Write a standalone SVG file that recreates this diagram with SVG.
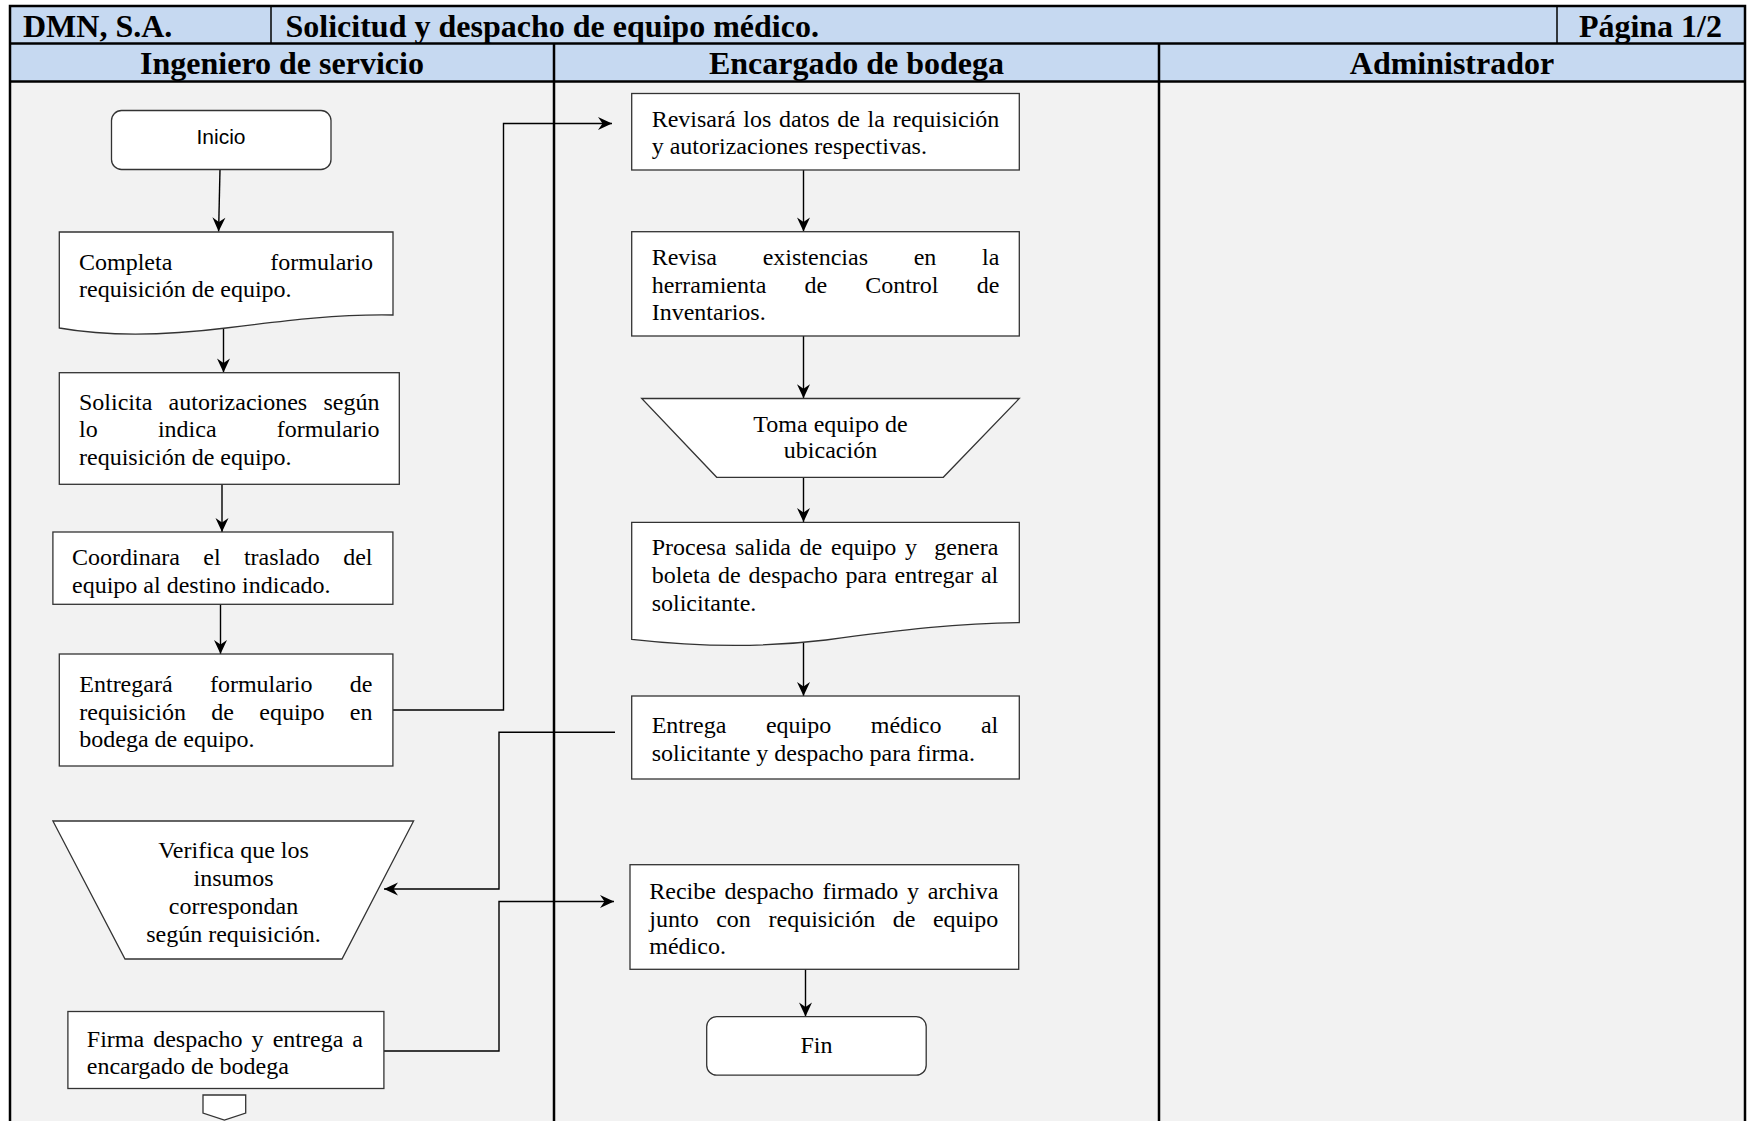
<svg xmlns="http://www.w3.org/2000/svg" width="1748" height="1121" viewBox="0 0 1748 1121">
  <style>
    .hdr { fill: #c6d9f1; }
    .body { fill: #f2f2f2; }
    .rule { stroke: #000; stroke-width: 2.5; fill: none; }
    .thin { stroke: #000; stroke-width: 1.5; fill: none; }
    .hd { font-family: "Liberation Serif", "Times New Roman", serif; font-weight: bold; font-size: 32px; fill: #000; }
    .shape { fill: #fff; stroke: #333; stroke-width: 1.3; }
    .t { font-family: "Liberation Serif", "Times New Roman", serif; font-size: 24px; fill: #000; }
    .ts { font-family: "Liberation Sans", Arial, sans-serif; font-size: 21px; fill: #000; }
    .c { text-anchor: middle; }
    .e { text-anchor: end; }
    .conn { stroke: #000; stroke-width: 1.4; fill: none; }
  </style>
  <defs>
    <marker id="arrow" viewBox="-15 -8 16 16" markerWidth="16" markerHeight="16" refX="0" refY="0" markerUnits="userSpaceOnUse" orient="auto">
      <path d="M0,0 L-14,-6.5 L-9.5,0 L-14,6.5 Z" fill="#000"/>
    </marker>
  </defs>

  <!-- page background -->
  <rect x="0" y="0" width="1748" height="1121" fill="#fff"/>

  <!-- title block and lane headers -->
  <g id="header">
    <rect class="hdr" x="10" y="6" width="1735" height="75.5"/>
    <rect class="body" x="10" y="81.5" width="1735" height="1045"/>
    <line class="rule" x1="10" y1="43.5" x2="1745" y2="43.5"/>
    <line class="rule" x1="10" y1="81.5" x2="1745" y2="81.5"/>
    <line class="thin" x1="271" y1="6" x2="271" y2="43.5"/>
    <line class="thin" x1="1557" y1="6" x2="1557" y2="43.5"/>
    <text class="hd" x="23" y="36.5">DMN, S.A.</text>
    <text class="hd" x="285.5" y="36.5">Solicitud y despacho de equipo médico.</text>
    <text class="hd e" x="1722" y="36.5">Página 1/2</text>
  </g>

  <!-- swimlanes -->
  <g id="lanes">
    <text class="hd c" x="282" y="73.5">Ingeniero de servicio</text>
    <text class="hd c" x="856.5" y="73.5">Encargado de bodega</text>
    <text class="hd c" x="1452" y="73.5">Administrador</text>
    <line class="rule" x1="554" y1="43.5" x2="554" y2="1125"/>
    <line class="rule" x1="1159" y1="43.5" x2="1159" y2="1125"/>
    <polyline class="rule" points="10,1125 10,6 1745,6 1745,1125"/>
  </g>

  <!-- connectors -->
  <g id="connectors">
    <path class="conn" d="M220,169.5 L218.6,231.5" marker-end="url(#arrow)"/>
    <path class="conn" d="M223.5,329 V372.5" marker-end="url(#arrow)"/>
    <path class="conn" d="M222,484.3 V532" marker-end="url(#arrow)"/>
    <path class="conn" d="M220.5,604.3 V654" marker-end="url(#arrow)"/>
    <path class="conn" d="M393,710 H503.5 V123.5 H612" marker-end="url(#arrow)"/>
    <path class="conn" d="M803.5,170 V231.5" marker-end="url(#arrow)"/>
    <path class="conn" d="M803.5,336 V398.3" marker-end="url(#arrow)"/>
    <path class="conn" d="M803.5,477.3 V522" marker-end="url(#arrow)"/>
    <path class="conn" d="M803.5,643 V696" marker-end="url(#arrow)"/>
    <path class="conn" d="M615,732.3 H499 V889 H384" marker-end="url(#arrow)"/>
    <path class="conn" d="M384,1051 H499 V901.5 H614" marker-end="url(#arrow)"/>
    <path class="conn" d="M805.5,969.3 V1016.5" marker-end="url(#arrow)"/>
  </g>

  <!-- Ingeniero de servicio -->
  <g id="inicio">
    <rect class="shape" x="111.5" y="110.5" width="219.5" height="59" rx="10"/>
    <text class="ts c" x="221" y="144">Inicio</text>
  </g>

  <g id="completa">
    <path class="shape" d="M59.3,232 H393 V315 C340,314 290,320 226,328 C170,335 110,337 59.3,328 Z"/>
    <text class="t" y="269.5"><tspan x="79">Completa</tspan><tspan class="e" x="373">formulario</tspan></text>
    <text class="t" x="79" y="297">requisición de equipo.</text>
  </g>

  <g id="solicita">
    <rect class="shape" x="59.3" y="372.7" width="340" height="111.6"/>
    <text class="t" y="409.5"><tspan x="79">Solicita</tspan><tspan x="168.6">autorizaciones</tspan><tspan class="e" x="379.5">según</tspan></text>
    <text class="t" y="437"><tspan x="79">lo</tspan><tspan x="157.9">indica</tspan><tspan class="e" x="379.5">formulario</tspan></text>
    <text class="t" x="79" y="464.5">requisición de equipo.</text>
  </g>

  <g id="coordinara">
    <rect class="shape" x="52.9" y="532" width="340" height="72.3"/>
    <text class="t" y="565"><tspan x="72">Coordinara</tspan><tspan x="203.3">el</tspan><tspan x="243.9">traslado</tspan><tspan class="e" x="372.5">del</tspan></text>
    <text class="t" x="72" y="592.5">equipo al destino indicado.</text>
  </g>

  <g id="entregara">
    <rect class="shape" x="59.3" y="654" width="333.6" height="112"/>
    <text class="t" y="692"><tspan x="79.3">Entregará</tspan><tspan x="209.9">formulario</tspan><tspan class="e" x="372.5">de</tspan></text>
    <text class="t" y="719.5"><tspan x="79.3">requisición</tspan><tspan x="211.3">de</tspan><tspan x="259.3">equipo</tspan><tspan class="e" x="372.5">en</tspan></text>
    <text class="t" x="79.3" y="747">bodega de equipo.</text>
  </g>

  <g id="verifica">
    <polygon class="shape" points="52.9,821 413.6,821 342,959 125,959"/>
    <text class="t c" x="233.5" y="857.5">Verifica que los</text>
    <text class="t c" x="233.5" y="885.5">insumos</text>
    <text class="t c" x="233.5" y="913.5">correspondan</text>
    <text class="t c" x="233.5" y="941.5">según requisición.</text>
  </g>

  <g id="firma">
    <rect class="shape" x="67.9" y="1011.5" width="316" height="77"/>
    <text class="t" y="1046.5"><tspan x="86.8">Firma</tspan><tspan x="153.2">despacho</tspan><tspan x="251.6">y</tspan><tspan x="272.7">entrega</tspan><tspan class="e" x="363">a</tspan></text>
    <text class="t" x="86.8" y="1074">encargado de bodega</text>
  </g>

  <g id="conector-pagina">
    <path class="shape" d="M203,1095 H245.7 V1113 L224.4,1120 L203,1113 Z"/>
  </g>

  <!-- Encargado de bodega -->
  <g id="revisara">
    <rect class="shape" x="631.7" y="93.5" width="387.6" height="76.5"/>
    <text class="t" y="126.5"><tspan x="651.7">Revisará</tspan><tspan x="743.3">los</tspan><tspan x="778.9">datos</tspan><tspan x="837.3">de</tspan><tspan x="867.6">la</tspan><tspan class="e" x="999.3">requisición</tspan></text>
    <text class="t" x="651.7" y="154">y autorizaciones respectivas.</text>
  </g>

  <g id="revisa">
    <rect class="shape" x="631.7" y="231.7" width="387.6" height="104.3"/>
    <text class="t" y="264.5"><tspan x="651.7">Revisa</tspan><tspan x="762.7">existencias</tspan><tspan x="913.7">en</tspan><tspan class="e" x="999.3">la</tspan></text>
    <text class="t" y="292.5"><tspan x="651.7">herramienta</tspan><tspan x="804.4">de</tspan><tspan x="865.2">Control</tspan><tspan class="e" x="999.3">de</tspan></text>
    <text class="t" x="651.7" y="320">Inventarios.</text>
  </g>

  <g id="toma">
    <polygon class="shape" points="641.7,398.5 1019.3,398.5 943.3,477.3 716.7,477.3"/>
    <text class="t c" x="830.5" y="432">Toma equipo de</text>
    <text class="t c" x="830.5" y="458">ubicación</text>
  </g>

  <g id="procesa">
    <path class="shape" d="M631.7,522.3 H1019.3 V622.7 C960,623 900,630 826,640 C760,648 700,647 631.7,639.3 Z"/>
    <text class="t" y="555"><tspan x="651.7">Procesa</tspan><tspan x="735">salida</tspan><tspan x="799.6">de</tspan><tspan x="831">equipo</tspan><tspan x="905">y</tspan><tspan class="e" x="998.3">genera</tspan></text>
    <text class="t" y="582.5"><tspan x="651.7">boleta</tspan><tspan x="718.1">de</tspan><tspan x="748.5">despacho</tspan><tspan x="845.5">para</tspan><tspan x="894.6">entregar</tspan><tspan class="e" x="998.3">al</tspan></text>
    <text class="t" x="651.7" y="610.5">solicitante.</text>
  </g>

  <g id="entrega">
    <rect class="shape" x="631.7" y="696" width="387.6" height="83"/>
    <text class="t" y="733"><tspan x="651.7">Entrega</tspan><tspan x="765.9">equipo</tspan><tspan x="870.8">médico</tspan><tspan class="e" x="998.3">al</tspan></text>
    <text class="t" x="651.7" y="760.5">solicitante y despacho para firma.</text>
  </g>

  <g id="recibe">
    <rect class="shape" x="630" y="864.7" width="388.7" height="104.6"/>
    <text class="t" y="899"><tspan x="649.3">Recibe</tspan><tspan x="724.5">despacho</tspan><tspan x="822.4">firmado</tspan><tspan x="907">y</tspan><tspan class="e" x="998.3">archiva</tspan></text>
    <text class="t" y="926.5"><tspan x="649.3">junto</tspan><tspan x="716.2">con</tspan><tspan x="768.5">requisición</tspan><tspan x="892.8">de</tspan><tspan class="e" x="998.3">equipo</tspan></text>
    <text class="t" x="649.3" y="954">médico.</text>
  </g>

  <g id="fin">
    <rect class="shape" x="706.7" y="1016.7" width="219.5" height="58.5" rx="10"/>
    <text class="t c" x="816.5" y="1053">Fin</text>
  </g>
</svg>
